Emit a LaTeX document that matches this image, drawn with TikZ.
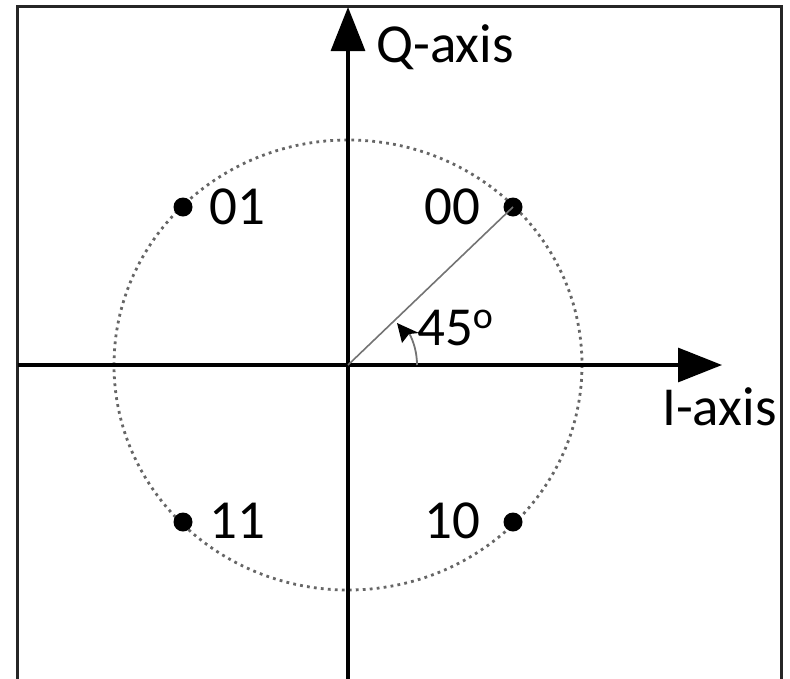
\documentclass[tikz,border=0pt]{standalone}
\usepackage{fontspec}
\setmainfont{Carlito}
\usetikzlibrary{arrows.meta}
\begin{document}
\begin{tikzpicture}[x=1pt,y=-1pt,
  axisline/.style={line width=3.2pt,black},
  axistip/.style={-{Triangle[length=44pt,width=34pt]}},
  lbl/.style={inner sep=0pt,anchor=base west,font=\fontsize{55}{60}\selectfont},
  sym/.style={circle,fill=black,inner sep=0pt,minimum size=19pt},
  frameline/.style={line width=3pt,black!85}]
\useasboundingbox (0,0) rectangle (790,678);
\draw[frameline] (17,690) -- (17,6) -- (781,6) -- (781,690);
% dotted circle
\draw[gray!80!black,line width=2.8pt,dash pattern=on 2.8pt off 4.2pt] (348,365) ellipse [x radius=234,y radius=225];
% axes
\coordinate (o) at (348,365);
\coordinate (qb) at (348,690);
\coordinate (qt) at (348,7);
\coordinate (il) at (18,365);
\coordinate (ir) at (722,365);
\draw[axisline,axistip] (qb) -- (qt);
\draw[axisline,axistip] (il) -- (ir);
% constellation points
\node[sym] (p00) at (513,207) {};
\node[sym] (p01) at (183,207) {};
\node[sym] (p11) at (183,522) {};
\node[sym] (p10) at (513,522) {};
\draw[gray!90!black,line width=1.6pt] (o) -- (p00.center);
% angle arc
\draw[gray!90!black,line width=1.8pt] (417,365) arc[start angle=0,end angle=-28,radius=69] coordinate (arcend);
\coordinate (tip) at (397,323);
\fill[black] (tip) -- (419,333) -- (409,334) -- (402,343) -- cycle;
% labels
\node[lbl] (t01) at (209,224) {01};
\node[lbl] (t00) at (424,224) {00};
\node[lbl] (t11) at (209,538) {11};
\node[lbl] (t10) at (424,538) {10};
\node[lbl] (tq) at (376,62) {Q-axis};
\node[lbl] (ti) at (662,425) {I-axis};
\node[lbl] (ta) at (417,345) {45\raisebox{17pt}{\fontsize{38}{40}\selectfont o}};
\end{tikzpicture}
\end{document}
